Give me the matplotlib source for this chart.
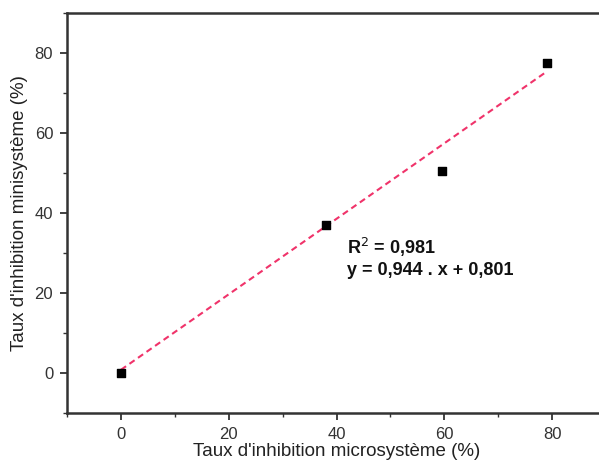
import matplotlib
matplotlib.use("Agg")
import matplotlib.pyplot as plt
import numpy as np
from matplotlib.ticker import MultipleLocator

x_micro = [0, 38.1, 59.6, 79.1]
y_mini = [0, 36.9, 50.5, 77.5]
slope = 0.944
intercept = 0.801
r2_text = "R$^2$ = 0,981"
eq_text = "y = 0,944 . x + 0,801"
xlabel = "Taux d'inhibition microsystème (%)"
ylabel = "Taux d'inhibition minisystème (%)"

plt.rcParams['font.family'] = ['Liberation Sans', 'DejaVu Sans']

fig = plt.figure(figsize=(5.99, 4.61), dpi=100)
ax = fig.add_axes([0.1119, 0.1041, 0.9, 0.8677])

xf = np.array([min(x_micro), max(x_micro)])
ax.plot(xf, slope * xf + intercept, color='#f0336a', lw=1.5, ls=(0, (3, 2)), zorder=2)
ax.scatter(x_micro, y_mini, marker='s', s=40, color='black', zorder=3)

ax.text(42.0, 31.4, r2_text, fontsize=13, fontweight='bold', va='center', ha='left', color='#111111')
ax.text(42.0, 25.6, eq_text, fontsize=13, fontweight='bold', va='center', ha='left', color='#111111')

ax.set_xlim(-10, 90)
ax.set_ylim(-10, 90)
ax.xaxis.set_major_locator(MultipleLocator(20))
ax.xaxis.set_minor_locator(MultipleLocator(10))
ax.yaxis.set_major_locator(MultipleLocator(20))
ax.yaxis.set_minor_locator(MultipleLocator(10))
ax.tick_params(which='major', direction='out', length=5, width=1.3, labelsize=12, colors='#333333', pad=5)
ax.tick_params(which='minor', direction='out', length=3, width=1.0, colors='#333333')
for s in ax.spines.values():
    s.set_linewidth(1.8)
    s.set_color('#333333')

ax.set_xlabel(xlabel, fontsize=13.5, color='#222222', labelpad=1)
ax.set_ylabel(ylabel, fontsize=13.5, color='#222222', labelpad=5)

fig.savefig("out.png", dpi=100)
